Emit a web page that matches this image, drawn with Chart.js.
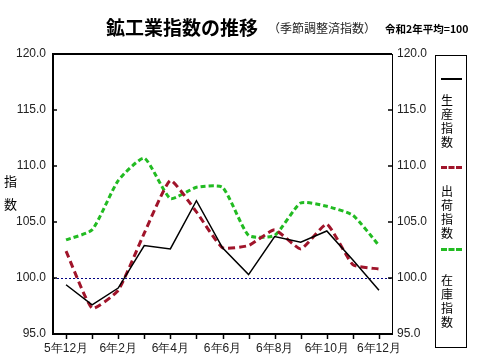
<!DOCTYPE html>
<html>
<head>
<meta charset="utf-8">
<script src="https://cdn.jsdelivr.net/npm/chart.js@4/dist/chart.umd.min.js"></script>
<style>
    body { margin: 0; background: #fff; }
    #wrap { position: relative; width: 480px; height: 362px; font-family: "Noto Sans CJK JP", sans-serif; color: #000; }
    #wrap canvas { position: absolute; left: 0; top: 0; }
    .txt { position: absolute; white-space: nowrap; line-height: 1; }
    .legend { position: absolute; left: 435px; top: 55px; width: 30px; height: 291px; border: 1px solid #000; }
    .sample { position: absolute; left: 5px; width: 21px; height: 0; }
    .vlabel { position: absolute; left: 5px; width: 14px; font-size: 12px; line-height: 14px; }
</style>
</head>
<body>
<div id="wrap">
    <canvas id="ip_chart" width="480" height="362"></canvas>
    <div class="txt" style="left:106px; top:17px; font-size:19px; font-weight:bold;">鉱工業指数の推移</div>
    <div class="txt" style="left:268px; top:22px; font-size:12px; color:#222;">（季節調整済指数）</div>
    <div class="txt" style="left:385px; top:24px; font-size:10.5px; font-weight:bold;">令和2年平均=100</div>
    <div class="txt" style="left:4px; top:174px; font-size:13px;">指</div>
    <div class="txt" style="left:4px; top:197px; font-size:13px;">数</div>
    <div class="legend">
        <div class="sample" style="top:22px; border-top:2px solid #000;"></div>
        <div class="vlabel" style="top:37px;">生<br>産<br>指<br>数</div>
        <div class="sample" style="top:110px; border-top:3px dashed #a0142a;"></div>
        <div class="vlabel" style="top:128px;">出<br>荷<br>指<br>数</div>
        <div class="sample" style="top:192px; border-top:3px dashed #22bb22;"></div>
        <div class="vlabel" style="top:217px;">在<br>庫<br>指<br>数</div>
    </div>
</div>
<script>
// months shown on the x axis (every other one gets a label)
const months = ['5年12月', '6年1月', '6年2月', '6年3月', '6年4月', '6年5月', '6年6月',
    '6年7月', '6年8月', '6年9月', '6年10月', '6年11月', '6年12月']

// index values
const production = [99.4, 97.6, 99.1, 102.9, 102.6, 106.9, 102.7, 100.3, 103.7, 103.2, 104.2, 101.6, 98.9]
const shipments = [102.4, 97.3, 98.9, 104.0, 108.7, 105.9, 102.7, 102.9, 104.3, 102.6, 104.8, 101.2, 100.8]
const inventory = [103.4, 104.3, 108.7, 110.7, 107.1, 108.1, 108.1, 103.8, 103.8, 106.7, 106.4, 105.6, 102.9]

const yMin = 95
const yMax = 120
const yStep = 5
const baseLine = 100

const tickFont = { family: '"Liberation Sans", Arial, sans-serif', size: 12 }

// frame, tick marks and the dotted 100 line
const framePlugin = {
    id: 'frame',
    beforeDatasetsDraw(chart) {
        const { ctx, chartArea: a, scales } = chart
        const y100 = scales.y.getPixelForValue(baseLine)
        ctx.save()
        ctx.strokeStyle = '#000080'
        ctx.lineWidth = 1
        ctx.setLineDash([2, 2])
        ctx.beginPath()
        ctx.moveTo(a.left, y100 + 0.5)
        ctx.lineTo(a.right, y100 + 0.5)
        ctx.stroke()
        ctx.restore()
    },
    afterDatasetsDraw(chart) {
        const { ctx, chartArea: a, scales } = chart
        ctx.save()
        ctx.strokeStyle = '#000'
        ctx.setLineDash([])
        // right edge, thin
        ctx.lineWidth = 1
        ctx.beginPath()
        ctx.moveTo(a.right + 0.5, a.top)
        ctx.lineTo(a.right + 0.5, a.bottom)
        ctx.stroke()
        // left, top, bottom, thick
        ctx.lineWidth = 2
        ctx.beginPath()
        ctx.moveTo(a.right, a.top)
        ctx.lineTo(a.left, a.top)
        ctx.lineTo(a.left, a.bottom)
        ctx.lineTo(a.right + 1, a.bottom)
        ctx.stroke()
        // y ticks point inward
        ctx.lineWidth = 1.5
        for (let v = yMin; v <= yMax; v += yStep) {
            const py = Math.round(scales.y.getPixelForValue(v))
            ctx.beginPath()
            ctx.moveTo(a.left, py)
            ctx.lineTo(a.left + 4, py)
            ctx.moveTo(a.right, py)
            ctx.lineTo(a.right - 4, py)
            ctx.stroke()
        }
        // x ticks point down
        months.forEach((m, i) => {
            const px = Math.round(scales.x.getPixelForValue(i)) + 0.5
            ctx.beginPath()
            ctx.moveTo(px, a.bottom)
            ctx.lineTo(px, a.bottom + 5)
            ctx.stroke()
        })
        ctx.restore()
    }
}

const ctx = document.getElementById('ip_chart').getContext('2d')
new Chart(ctx, {
    type: 'line',
    data: {
        labels: months,
        datasets: [
            {
                label: '生産指数',
                data: production,
                borderColor: '#000',
                borderWidth: 1.5,
                tension: 0,
                pointRadius: 0,
                yAxisID: 'y'
            },
            {
                label: '出荷指数',
                data: shipments,
                borderColor: '#a0142a',
                borderWidth: 3,
                borderDash: [7, 4],
                tension: 0.15,
                pointRadius: 0,
                yAxisID: 'y'
            },
            {
                label: '在庫指数',
                data: inventory,
                borderColor: '#22bb22',
                borderWidth: 3,
                borderDash: [5, 3],
                tension: 0.18,
                pointRadius: 0,
                yAxisID: 'y'
            }
        ]
    },
    options: {
        responsive: false,
        animation: false,
        layout: { padding: { top: 54, right: 48, left: 0, bottom: 0 } },
        plugins: {
            legend: { display: false },
            title: { display: false },
            tooltip: { enabled: false }
        },
        scales: {
            x: {
                offset: true,
                grid: { display: false, drawTicks: false },
                border: { display: false },
                afterFit: (s) => { s.height = 28 },
                ticks: {
                    autoSkip: false,
                    maxRotation: 0,
                    padding: 7,
                    color: '#222',
                    font: tickFont,
                    callback: (v, i) => (i % 2 === 0 ? months[i] : '')
                }
            },
            y: {
                position: 'left',
                min: yMin,
                max: yMax,
                grid: { display: false, drawTicks: false },
                border: { display: false },
                afterFit: (s) => { s.width = 53 },
                ticks: {
                    stepSize: yStep,
                    padding: 7,
                    color: '#222',
                    font: tickFont,
                    callback: (v) => Number(v).toFixed(1)
                }
            },
            y1: {
                position: 'right',
                min: yMin,
                max: yMax,
                grid: { display: false, drawTicks: false },
                border: { display: false },
                afterFit: (s) => { s.width = 40 },
                ticks: {
                    stepSize: yStep,
                    padding: 5,
                    color: '#222',
                    font: tickFont,
                    callback: (v) => Number(v).toFixed(1)
                }
            }
        }
    },
    plugins: [framePlugin]
})
</script>
</body>
</html>
